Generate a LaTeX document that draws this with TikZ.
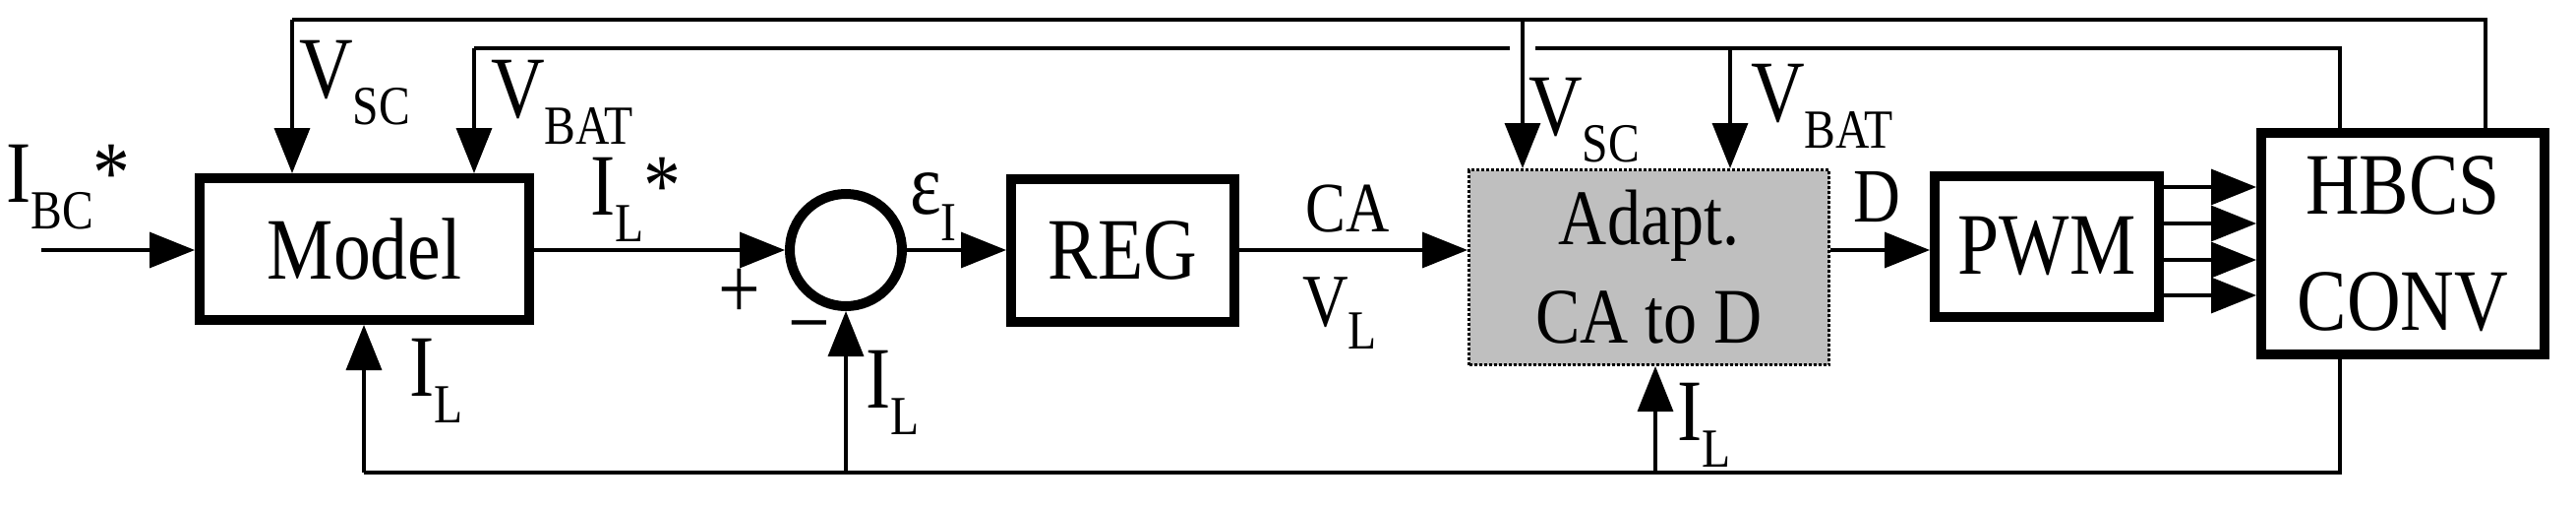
\documentclass[tikz,border=0pt]{standalone}
\usepackage{fontspec}
\setmainfont{Liberation Serif}[FakeStretch=0.85]
\usetikzlibrary{arrows.meta}
\newcommand{\lsub}[1]{\raisebox{-0.3em}{\fontsize{56}{56}\selectfont #1}}
\begin{document}
\begin{tikzpicture}[x=1pt,y=-1pt,
  blk/.style={draw,line width=10pt,inner sep=0pt,font=\fontsize{89}{96}\selectfont},
  wire/.style={line width=3.5pt},
  arr/.style={wire,-{Triangle[length=46pt,width=36pt]}},
  lbl/.style={inner sep=0pt,font=\fontsize{89}{96}\selectfont}]
\useasboundingbox (0,0) rectangle (2619,515);
% blocks
\node[blk,minimum width=335pt,minimum height=144pt] (model) at (370.5,253) {Model};
\node[draw,line width=10pt,circle,minimum size=114pt,inner sep=0pt] (sum) at (860,254) {};
\node[blk,minimum width=227pt,minimum height=145pt] (reg) at (1141.5,254.5) {REG};
\node[draw,line width=3pt,dotted,fill=black!25,minimum width=366pt,minimum height=198pt,inner sep=0pt,align=center,font=\fontsize{80}{100}\selectfont] (ad) at (1676.5,271.5) {Adapt.\\CA to D};
\node[blk,minimum width=228pt,minimum height=143pt] (pwm) at (2081,250.5) {PWM};
\node[blk,minimum width=288pt,minimum height=225pt,align=center,font=\fontsize{89}{118}\selectfont] (hb) at (2443,247.5) {HBCS\\CONV};
% coordinates
\coordinate (in) at (42,254);
\coordinate (t1L) at (297,20);
\coordinate (t1R) at (2527,20);
\coordinate (t2L) at (482,49);
\coordinate (t2R) at (2379,49);
\coordinate (gapA) at (1535,49);
\coordinate (gapB) at (1561,49);
\coordinate (vsc) at (1548,20);
\coordinate (vbat) at (1759,49);
\coordinate (bR) at (2379,480);
\coordinate (bM) at (370,480);
\coordinate (bS) at (860,480);
\coordinate (bA) at (1683,480);
% forward path
\draw[arr] (in) -- (model.west |- in);
\draw[arr] (model.east |- sum) -- (sum.west);
\draw[arr] (sum.east) -- (reg.west |- sum);
\draw[arr] (reg.east |- sum) -- (ad.west |- sum);
\draw[arr] (ad.east |- sum) -- (pwm.west |- sum);
\foreach \yy in {190,227,264,300}
  \draw[arr] (pwm.east |- 0,\yy) -- (hb.west |- 0,\yy);
% top feedback
\draw[wire] (hb.north -| t1R) -- (t1R) -- (t1L);
\draw[arr] (t1L) -- (model.north -| t1L);
\draw[wire] (hb.north -| t2R) -- (t2R) -- (gapB);
\draw[wire] (gapA) -- (t2L);
\draw[arr] (t2L) -- (model.north -| t2L);
\draw[arr] (vsc) -- (ad.north -| vsc);
\draw[arr] (vbat) -- (ad.north -| vbat);
% bottom feedback
\draw[wire] (hb.south -| bR) -- (bR) -- (bM);
\draw[arr] (bM) -- (model.south -| bM);
\draw[arr] (bS) -- (sum.south);
\draw[arr] (bA) -- (ad.south -| bA);
% labels
\node[lbl,anchor=west] at (6,190) {I\lsub{BC}*};
\node[lbl,anchor=west] at (304,84) {V\lsub{SC}};
\node[lbl,anchor=west] at (499,104) {V\lsub{BAT}};
\node[lbl,anchor=west] at (600,203) {I\lsub{L}*};
\node[lbl,anchor=west] at (925,210) {ε\lsub{I}};
\node[lbl] at (752,298) {+};
\node[lbl] at (823,342) {−};
\node[lbl,anchor=west] at (416,387) {I\lsub{L}};
\node[lbl,anchor=west] at (880,399) {I\lsub{L}};
\node[lbl,anchor=west,font=\fontsize{72}{80}\selectfont] at (1327,212) {CA};
\node[lbl,anchor=west,font=\fontsize{76}{80}\selectfont] at (1324,318) {V\lsub{L}};
\node[lbl,anchor=west] at (1554,122) {V\lsub{SC}};
\node[lbl,anchor=west] at (1780,108) {V\lsub{BAT}};
\node[lbl,anchor=west,font=\fontsize{78}{80}\selectfont] at (1884,200) {D};
\node[lbl,anchor=west] at (1705,432) {I\lsub{L}};
\end{tikzpicture}
\end{document}
